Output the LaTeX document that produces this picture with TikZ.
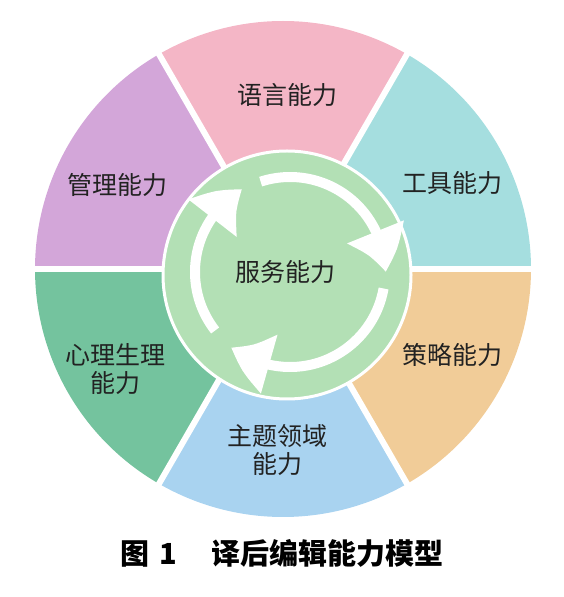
\documentclass[tikz,border=0pt]{standalone}
\usepackage{fontspec}
\newfontfamily\cjk{Noto Sans CJK SC}
\usepackage{xcolor}
\usetikzlibrary{arrows.meta}
\usetikzlibrary{bending}

\definecolor{pinkseg}{HTML}{F4B6C6}
\definecolor{purpleseg}{HTML}{D3A6D9}
\definecolor{cyanseg}{HTML}{A5DEDF}
\definecolor{orangeseg}{HTML}{F1CC98}
\definecolor{blueseg}{HTML}{A9D3F0}
\definecolor{greenseg}{HTML}{74C39E}
\definecolor{innergreen}{HTML}{B3E0B5}
\definecolor{textgray}{HTML}{222222}

\begin{document}
\begin{tikzpicture}[x=1pt,y=1pt,
		seglabel/.style={font=\cjk\fontsize{25}{28}\selectfont,text=textgray,align=center,inner sep=0pt},
		cycarrow/.style={white,line width=10pt,-{Triangle[width=58pt,length=42pt,bend]}}]
		\useasboundingbox (0,0) rectangle (563,597);
		\coordinate (C) at (283,328);
		\coordinate (IC) at (287,322);
		\coordinate (RC) at (290,325);

		% draw segments
		\foreach \a/\col in {0/cyanseg,60/pinkseg,120/purpleseg,180/greenseg,240/blueseg,300/orangeseg}
			\fill[\col] (C) -- ++(\a:248pt) arc[start angle=\a,end angle=\a+60,radius=248pt] -- cycle;

		% draw white gaps between segments
		\foreach \a in {0,60,...,300}
			\draw[white,line width=6pt] (C) -- ++(\a:252pt);

		% draw inner circle
		\node (SRVC) at (IC) [circle,fill=innergreen,draw=white,line width=3pt,minimum size=248pt] {};

		% draw cycle arrows
		\draw[cycarrow] ([shift={(108:95pt)}]RC) arc[start angle=108,end angle=0,radius=95pt];
		\draw[cycarrow] ([shift={(-10:95pt)}]RC) arc[start angle=-10,end angle=-128,radius=95pt];
		\draw[cycarrow] ([shift={(218:95pt)}]RC) arc[start angle=218,end angle=120,radius=95pt];

		% draw labels
		\node (SRV) at (285,325) [seglabel] {服务能力};
		\node (LANG) at (287,502) [seglabel] {语言能力};
		\node (TOOL) at (452,414) [seglabel] {工具能力};
		\node (STRA) at (452,242) [seglabel] {策略能力};
		\node (DOMN) at (277,147) [seglabel] {主题领域\\能力};
		\node (PSY) at (115,228) [seglabel] {心理生理\\能力};
		\node (MGMT) at (117,412) [seglabel] {管理能力};

		% draw caption
		\node (CAP) at (282,44) [font=\cjk\bfseries\fontsize{29}{32}\selectfont,text=black] {图\hspace{10pt}1\hspace{34pt}译后编辑能力模型};
	\end{tikzpicture}
\end{document}
